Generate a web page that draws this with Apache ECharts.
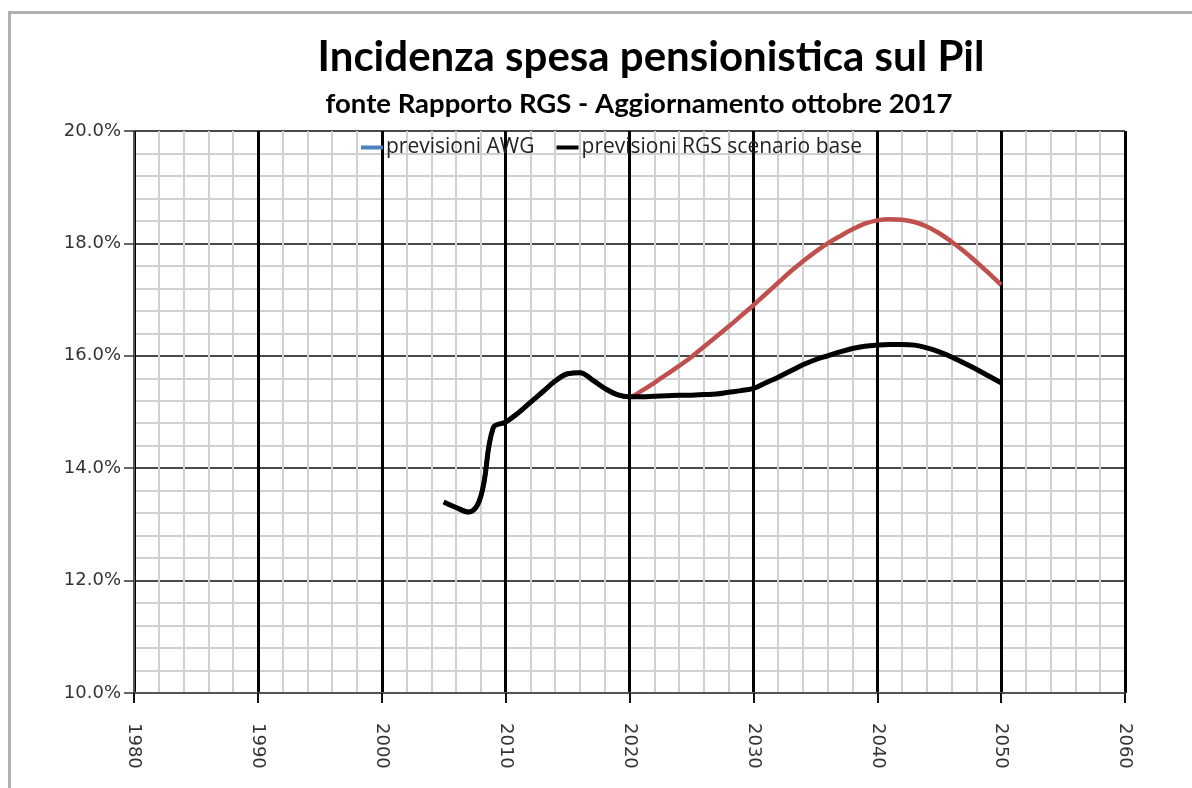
<!DOCTYPE html>
<html>
<head>
<meta charset="utf-8">
<script src="https://cdn.jsdelivr.net/npm/echarts@6/dist/echarts.min.js"></script>
<style>
  html, body { margin: 0; padding: 0; background: #fff; }
  #frame { position: absolute; left: 8px; top: 11px; width: 1184px; height: 777px;
           border-left: 3px solid #b0b0b0; border-top: 3px solid #b0b0b0; box-sizing: border-box; }
  #chart { position: absolute; left: 0; top: 0; width: 1192px; height: 788px; }
</style>
</head>
<body>
<div id="frame"></div>
<div id="chart"></div>
<script>
const titleText = 'Incidenza spesa pensionistica sul Pil';
const subtitleText = 'fonte Rapporto RGS - Aggiornamento ottobre 2017';
const seriesNames = ['previsioni AWG', 'previsioni RGS scenario base'];

const years = [2005,2006,2007,2008,2009,2010,2011,2012,2013,2014,2015,2016,2017,2018,2019,2020,
  2021,2022,2023,2024,2025,2026,2027,2028,2029,2030,2031,2032,2033,2034,2035,
  2036,2037,2038,2039,2040,2041,2042,2043,2044,2045,2046,2047,2048,2049,2050];

// previsioni RGS scenario base (% of GDP)
const rgs = [13.40,13.30,13.22,13.50,14.72,14.82,14.98,15.17,15.36,15.55,15.68,15.70,15.57,15.42,15.31,15.27,
  15.27,15.28,15.29,15.30,15.30,15.31,15.32,15.35,15.38,15.42,15.52,15.62,15.73,15.84,15.93,
  16.00,16.07,16.13,16.17,16.19,16.20,16.20,16.19,16.14,16.07,15.98,15.87,15.76,15.64,15.52];

// previsioni AWG (% of GDP)
const awg = [13.40,13.30,13.22,13.50,14.72,14.82,14.98,15.17,15.36,15.55,15.68,15.70,15.57,15.42,15.31,15.27,
  15.38,15.52,15.67,15.82,15.98,16.16,16.34,16.52,16.71,16.90,17.10,17.30,17.50,17.68,17.85,
  18.00,18.13,18.25,18.35,18.41,18.43,18.42,18.38,18.30,18.18,18.03,17.86,17.67,17.47,17.26];

const xMin = 1980, xMax = 2060, xStep = 10;
const yMin = 10, yMax = 20, yStep = 2;

const chart = echarts.init(document.getElementById('chart'), null, { renderer: 'canvas' });
const pairs = (vals) => years.map((y, i) => [y, vals[i]]);

chart.setOption({
  animation: false,
  backgroundColor: 'transparent',
  title: [
    { text: titleText, left: 646, top: 31, textAlign: 'center',
      textStyle: { fontFamily: 'Lato', fontWeight: 'bold', fontSize: 42, color: '#000' } },
    { text: subtitleText, left: 634, top: 85, textAlign: 'center',
      textStyle: { fontFamily: 'Lato', fontWeight: 'bold', fontSize: 27.5, color: '#000' } }
  ],
  legend: {
    top: 132, left: 356,
    itemWidth: 22, itemHeight: 4, itemGap: 22,
    icon: 'rect',
    textStyle: { fontFamily: 'Open Sans', fontSize: 21, color: '#222', padding: [0, 0, 0, -2] },
    data: seriesNames
  },
  grid: { left: 134, top: 131, right: 67, bottom: 95, containLabel: false },
  xAxis: {
    type: 'value', min: xMin, max: xMax, interval: xStep,
    axisLine: { show: true, lineStyle: { color: '#555', width: 2 } },
    axisTick: { show: true, length: 10, lineStyle: { color: '#111', width: 2 } },
    axisLabel: { rotate: -90, margin: 30, fontFamily: 'DejaVu Sans', fontSize: 18, color: '#333',
                 formatter: v => String(v) },
    splitLine: { show: true, lineStyle: { color: '#000', width: 3 } },
    minorTick: { show: false, splitNumber: 5 },
    minorSplitLine: { show: true, lineStyle: { color: '#d0d0d0', width: 2 } }
  },
  yAxis: {
    type: 'value', min: yMin, max: yMax, interval: yStep,
    axisLine: { show: true, lineStyle: { color: '#555', width: 2 } },
    axisTick: { show: true, length: 10, lineStyle: { color: '#333', width: 1.5 } },
    axisLabel: { margin: 13, fontFamily: 'DejaVu Sans', fontSize: 18, color: '#333',
                 formatter: v => v.toFixed(1) + '%' },
    splitLine: { show: true, lineStyle: { color: '#4a4a4a', width: 2 } },
    minorTick: { show: false, splitNumber: 5 },
    minorSplitLine: { show: true, lineStyle: { color: '#d0d0d0', width: 2 } }
  },
  series: [
    { name: seriesNames[0], type: 'line', data: pairs(awg), smooth: 0.4, showSymbol: false,
      itemStyle: { color: '#4f81bd' }, lineStyle: { color: '#c0504d', width: 4.5 }, z: 3 },
    { name: seriesNames[1], type: 'line', data: pairs(rgs), smooth: 0.4, showSymbol: false,
      itemStyle: { color: '#000' }, lineStyle: { color: '#000', width: 5 }, z: 4 }
  ]
});
</script>
</body>
</html>
